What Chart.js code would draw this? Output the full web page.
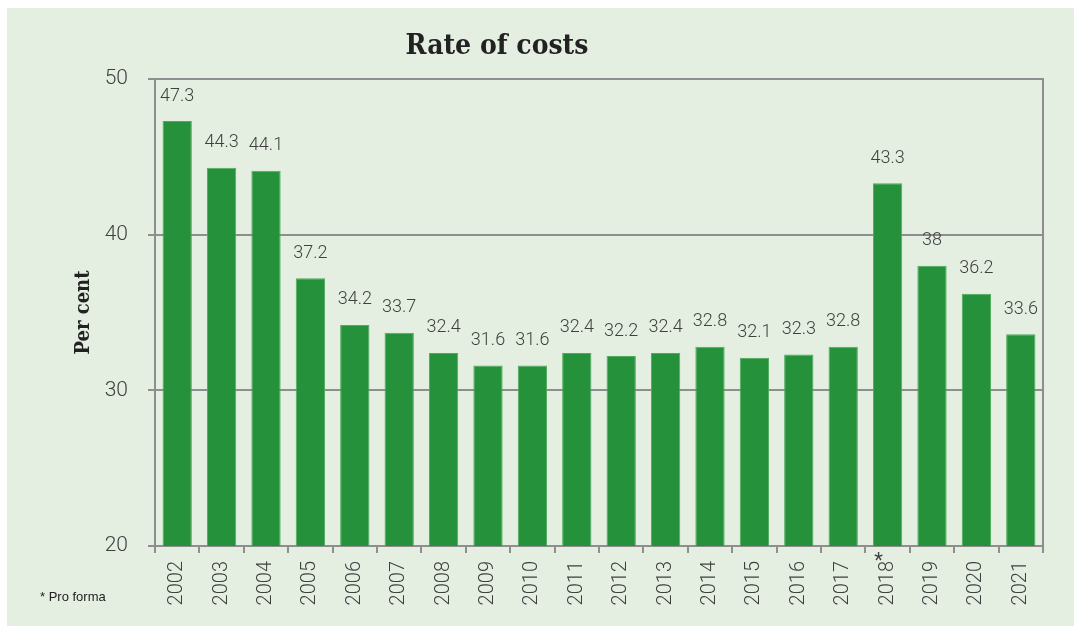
<!DOCTYPE html>
<html>
<head>
<meta charset="utf-8">
<script src="https://cdn.jsdelivr.net/npm/chart.js@4.4.1/dist/chart.umd.min.js"></script>
<style>
  html, body { margin: 0; background: #fff; }
  #panel { position: absolute; left: 7px; top: 8px; width: 1067px; height: 618px; background: #e4efe2; }
  canvas { display: block; }
</style>
</head>
<body>
<div id="panel"><canvas id="chart" width="1067" height="618" style="width:1067px;height:618px"></canvas></div>
<script>
const years = ['2002', '2003', '2004', '2005', '2006', '2007', '2008', '2009', '2010', '2011',
  '2012', '2013', '2014', '2015', '2016', '2017', '2018*', '2019', '2020', '2021'];
const costRates = [47.3, 44.3, 44.1, 37.2, 34.2, 33.7, 32.4, 31.6, 31.6, 32.4,
  32.2, 32.4, 32.8, 32.1, 32.3, 32.8, 43.3, 38, 36.2, 33.6];
const yTicks = [20, 30, 40, 50];

const titleText = 'Rate of costs';
const yTitle = 'Per cent';
const footnote = '* Pro forma';

const axisGrey = '#8e8e8e';
const textGrey = '#404040';

const extras = {
  id: 'extras',
  afterDatasetsDraw(chart) {
    const {ctx} = chart;
    const meta = chart.getDatasetMeta(0);

    ctx.save();
    ctx.fillStyle = textGrey;
    ctx.font = '300 18px Roboto';
    ctx.textAlign = 'center';
    ctx.textBaseline = 'bottom';
    meta.data.forEach((bar, i) => {
      ctx.fillText(String(costRates[i]), bar.x, bar.y - 16);
    });
    ctx.restore();
  },
  afterDraw(chart) {
    const {ctx} = chart;
    const xScale = chart.scales.x;

    ctx.save();
    ctx.fillStyle = '#222';
    ctx.font = 'bold 28px "DejaVu Serif Condensed", "DejaVu Serif", serif';
    ctx.textAlign = 'center';
    ctx.textBaseline = 'alphabetic';
    ctx.fillText(titleText, 490, 46);

    ctx.font = '13px "Liberation Sans", Arial, sans-serif';
    ctx.textAlign = 'left';
    ctx.textBaseline = 'middle';
    ctx.fillText(footnote, 33, 589);

    // asterisk marks on flagged years
    ctx.fillStyle = textGrey;
    ctx.font = '20px Roboto';
    ctx.textAlign = 'center';
    ctx.textBaseline = 'alphabetic';
    years.forEach((year, i) => {
      if (year.endsWith('*')) {
        ctx.fillText('*', xScale.getPixelForValue(i) - 9, xScale.top + 21);
      }
    });
    ctx.restore();
  },
};

new Chart(document.getElementById('chart'), {
  type: 'bar',
  data: {
    labels: years,
    datasets: [{
      data: costRates,
      backgroundColor: '#25923b',
      borderColor: '#4fab5b',
      borderWidth: 1,
      barPercentage: 0.66,
      categoryPercentage: 1,
    }],
  },
  options: {
    responsive: false,
    animation: false,
    layout: {padding: {top: 71, right: 31, bottom: 0, left: 0}},
    plugins: {
      legend: {display: false},
      tooltip: {enabled: false},
    },
    scales: {
      x: {
        afterFit: scale => { scale.height = 80; },
        grid: {
          offset: true,
          drawOnChartArea: false,
          color: axisGrey,
          lineWidth: 2,
          tickLength: 7,
        },
        border: {color: axisGrey, width: 2},
        ticks: {
          minRotation: 90,
          maxRotation: 90,
          padding: 8,
          color: textGrey,
          font: {family: 'Roboto', size: 20, weight: 300},
          callback: (value, index) => years[index].replace('*', ''),
        },
      },
      y: {
        min: yTicks[0],
        max: yTicks[yTicks.length - 1],
        afterFit: scale => { scale.width = 148; },
        afterBuildTicks: scale => { scale.ticks = yTicks.map(value => ({value})); },
        grid: {color: axisGrey, lineWidth: 2, tickLength: 7},
        border: {color: axisGrey, width: 2},
        ticks: {
          padding: 20,
          color: textGrey,
          font: {family: 'Roboto', size: 21, weight: 300},
        },
        title: {
          display: true,
          text: yTitle,
          color: '#222',
          padding: {top: 65, bottom: 0},
          font: {family: '"DejaVu Serif Condensed", "DejaVu Serif", serif', size: 20, weight: 'bold'},
        },
      },
      y2: {
        position: 'right',
        afterFit: scale => { scale.width = 0; },
        grid: {display: false},
        ticks: {display: false},
        border: {color: axisGrey, width: 2},
      },
    },
  },
  plugins: [extras],
});
</script>
</body>
</html>
